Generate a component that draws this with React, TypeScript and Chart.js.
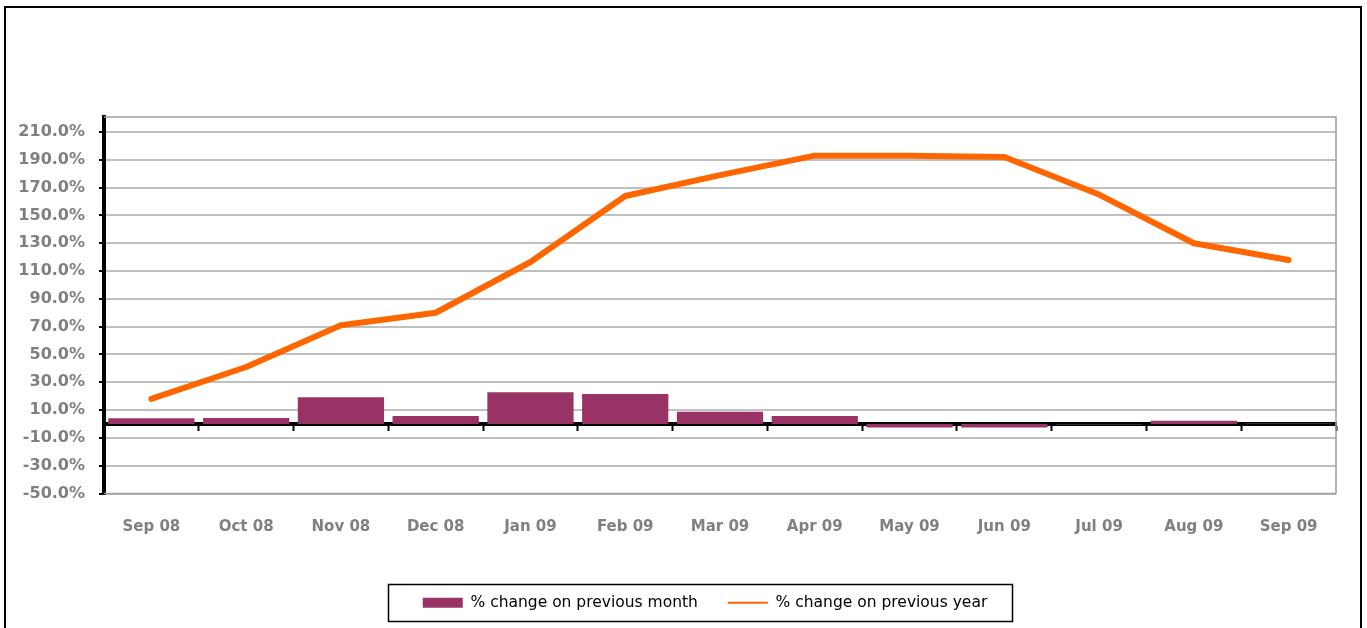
import React, { useEffect, useRef } from 'react';
import { Chart, registerables } from 'chart.js';

Chart.register(...registerables);

const categories = ['Sep 08', 'Oct 08', 'Nov 08', 'Dec 08', 'Jan 09', 'Feb 09', 'Mar 09', 'Apr 09', 'May 09', 'Jun 09', 'Jul 09', 'Aug 09', 'Sep 09'];
const monthChange = [4.1, 4.3, 19.2, 5.7, 22.8, 21.5, 8.8, 5.7, -2.5, -2.5, -0.4, 2.3, 0.3];
const yearChange = [18, 41, 71, 80, 116.5, 164, 179, 193, 193, 192, 165, 130, 118];
const yTickValues = [-50, -30, -10, 10, 30, 50, 70, 90, 110, 130, 150, 170, 190, 210];
const seriesNames = ['% change on previous month', '% change on previous year'];

const BAR_COLOR = '#993366';
const LINE_COLOR = '#FF6600';
const FONT = '"DejaVu Sans", sans-serif';

const decorPlugin = {
  id: 'decor',
  beforeDraw(chart: any) {
    const legend = chart.legend;
    if (legend) {
      legend.left = 74;
      legend.right = 1336;
    }
  },
  beforeDatasetsDraw(chart: any) {
    const { ctx, chartArea } = chart;
    const { left, right, top, bottom } = chartArea;
    ctx.save();
    ctx.strokeStyle = '#a0a0a0';
    ctx.lineWidth = 1.5;
    ctx.beginPath();
    ctx.moveTo(left, top);
    ctx.lineTo(right, top);
    ctx.lineTo(right, bottom);
    ctx.lineTo(left, bottom);
    ctx.stroke();
    ctx.restore();
  },
  afterDraw(chart: any) {
    const { ctx, legend } = chart;
    ctx.save();
    ctx.strokeStyle = '#000';
    ctx.lineWidth = 2;
    ctx.strokeRect(5, 7, 1356, 640);
    if (legend && legend.legendHitBoxes && legend.legendHitBoxes.length) {
      const hb = legend.legendHitBoxes[0];
      const cy = hb.top + hb.height / 2;
      const cx = (legend.left + legend.right) / 2;
      ctx.lineWidth = 1.5;
      ctx.strokeStyle = '#000';
      ctx.strokeRect(Math.round(cx - 317) + 0.5, Math.round(cy - 19) + 0.5, 624, 37);
    }
    ctx.restore();
  },
};

export default function App() {
  const canvasRef = useRef<HTMLCanvasElement | null>(null);

  useEffect(() => {
    if (!canvasRef.current) return;
    const chart = new Chart(canvasRef.current, {
      type: 'bar',
      data: {
        labels: categories,
        datasets: [
          {
            type: 'bar',
            label: seriesNames[0],
            data: monthChange,
            backgroundColor: BAR_COLOR,
            borderWidth: 0,
            barPercentage: 0.91,
            categoryPercentage: 1.0,
            xAxisID: 'x',
            yAxisID: 'y',
          } as any,
          {
            type: 'line',
            label: seriesNames[1],
            data: yearChange,
            borderColor: LINE_COLOR,
            backgroundColor: LINE_COLOR,
            borderWidth: 6,
            pointRadius: 0,
            pointHoverRadius: 0,
            tension: 0,
            fill: false,
            borderCapStyle: 'round',
            borderJoinStyle: 'round',
            xAxisID: 'x',
            yAxisID: 'y',
          } as any,
        ],
      },
      options: {
        responsive: false,
        animation: false,
        layout: { padding: { top: 117, right: 31, bottom: 7.5, left: 0 } },
        plugins: {
          tooltip: { enabled: false },
          legend: {
            position: 'bottom',
            align: 'center',
            labels: {
              usePointStyle: true,
              pointStyleWidth: 40,
              boxHeight: 10,
              padding: 30,
              color: '#222',
              font: { family: FONT, size: 15.5 },
              generateLabels: (c: any) =>
                c.data.datasets.map((ds: any, i: number) => ({
                  text: ds.label,
                  fillStyle: i === 0 ? BAR_COLOR : 'rgba(0,0,0,0)',
                  strokeStyle: i === 0 ? BAR_COLOR : LINE_COLOR,
                  lineWidth: i === 0 ? 0 : 2,
                  pointStyle: i === 0 ? 'rect' : 'line',
                  hidden: false,
                  datasetIndex: i,
                })),
            },
          },
        },
        scales: {
          x: {
            type: 'category',
            offset: true,
            grid: { display: false, drawTicks: false },
            border: { display: false },
            ticks: {
              color: '#808080',
              font: { family: FONT, size: 15, weight: 'bold' },
              padding: 25,
              autoSkip: false,
              maxRotation: 0,
            },
            afterFit: (s: any) => {
              s.height = 71.5;
            },
          },
          x2: {
            type: 'category',
            position: { y: 0 } as any,
            offset: true,
            z: 1,
            grid: {
              offset: true,
              drawOnChartArea: false,
              drawTicks: true,
              tickLength: 5,
              tickColor: '#000',
              tickWidth: 2,
            },
            border: { color: '#000', width: 4 },
            ticks: { display: false },
          },
          y: {
            type: 'linear',
            min: -50,
            max: 220.8,
            afterBuildTicks: (s: any) => {
              s.ticks = yTickValues.map((v) => ({ value: v }));
            },
            afterFit: (s: any) => {
              s.width = 104;
            },
            grid: {
              color: '#c0c0c0',
              lineWidth: 2,
              drawTicks: true,
              tickLength: 5,
              tickColor: '#000',
              tickWidth: 2,
            },
            border: { color: '#000', width: 4 },
            ticks: {
              padding: 14,
              color: '#808080',
              font: { family: FONT, size: 16, weight: 'bold' },
              callback: (v: any) => Number(v).toFixed(1) + '%',
            },
          },
        },
      } as any,
      plugins: [decorPlugin],
    });
    return () => chart.destroy();
  }, []);

  return (
    <div style={{ position: 'absolute', left: 0, top: 0, width: 1367, height: 628, background: '#fff' }}>
      <canvas ref={canvasRef} width={1367} height={628} style={{ display: 'block' }} />
    </div>
  );
}
